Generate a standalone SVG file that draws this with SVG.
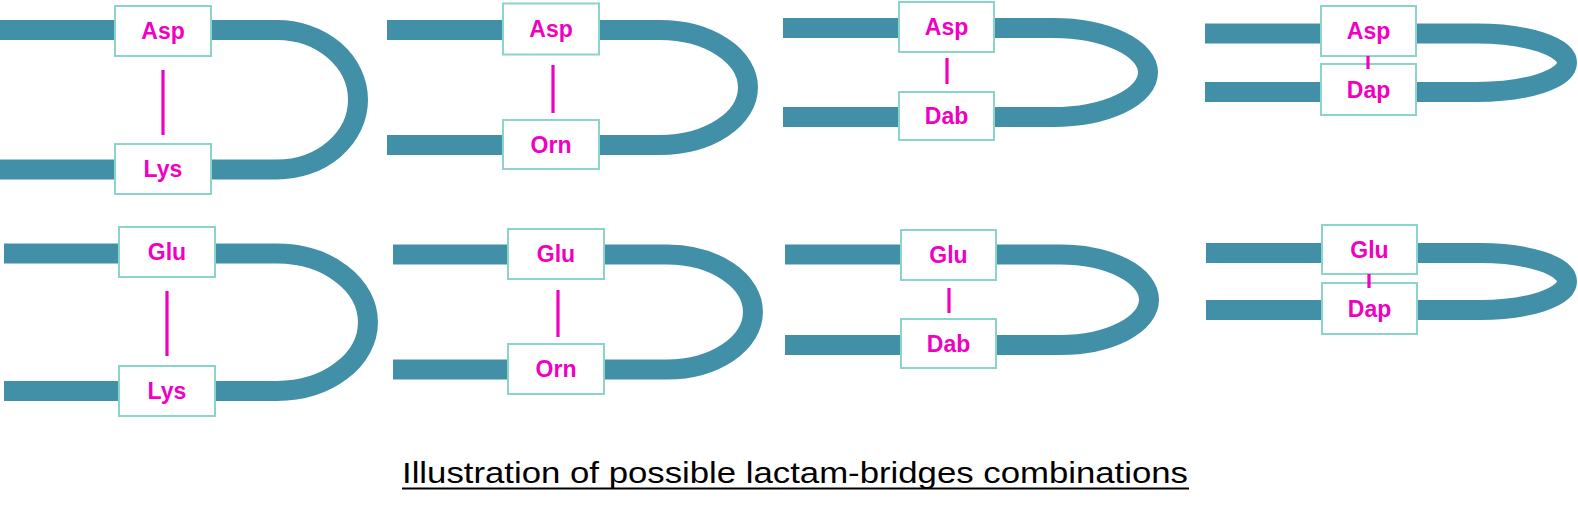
<svg xmlns="http://www.w3.org/2000/svg" width="1578" height="516" viewBox="0 0 1578 516">
<style>
.strand{fill:none;stroke:#428FA8;stroke-width:20;stroke-linecap:butt}
.bridge{stroke:#F000C0;stroke-width:3.2}
.box{fill:#FFFFFF;stroke:#8AD4CB;stroke-width:2}
.lbl{font-family:"Liberation Sans",Arial,sans-serif;font-weight:bold;font-size:23px;fill:#F000C0;text-anchor:middle}
.title{font-family:"Liberation Sans",Arial,sans-serif;font-size:30px;fill:#000000;text-anchor:middle}
</style>
<rect width="1578" height="516" fill="#FFFFFF"/>
<g id="strands">
<path class="strand" d="M0,30 H277 A81,69.75 0 0 1 277,169.5 H0"/>
<path class="strand" d="M387,30 H660 A88,57.5 0 0 1 660,145 H387"/>
<path class="strand" d="M783,28 H1053 A95,44.5 0 0 1 1053,117 H783"/>
<path class="strand" d="M1205,33.5 H1477 A90,29.25 0 0 1 1477,92 H1205"/>
<path class="strand" d="M4,253.5 H277 A91,68.75 0 0 1 277,391 H4"/>
<path class="strand" d="M393,254.5 H667 A86,57.5 0 0 1 667,369.5 H393"/>
<path class="strand" d="M785,254.5 H1060 A89,45.25 0 0 1 1060,345 H785"/>
<path class="strand" d="M1206,253 H1480 A87,28.5 0 0 1 1480,310 H1206"/>
</g>
<g id="n1-asp"><rect class="box" x="115" y="6" width="96" height="50"/><text class="lbl" x="163" y="39">Asp</text></g>
<g id="n1-lys"><rect class="box" x="115" y="144" width="96" height="50"/><text class="lbl" x="163" y="177">Lys</text></g>
<g id="n2-asp"><rect class="box" x="503" y="3.5" width="96" height="51"/><text class="lbl" x="551" y="37">Asp</text></g>
<g id="n2-orn"><rect class="box" x="503" y="120" width="96" height="49"/><text class="lbl" x="551" y="152.5">Orn</text></g>
<g id="n3-asp"><rect class="box" x="899" y="2" width="95" height="50"/><text class="lbl" x="946.5" y="35">Asp</text></g>
<g id="n3-dab"><rect class="box" x="899" y="92" width="95" height="48"/><text class="lbl" x="946.5" y="124">Dab</text></g>
<g id="n4-asp"><rect class="box" x="1321" y="6" width="95" height="50"/><text class="lbl" x="1368.5" y="39">Asp</text></g>
<g id="n4-dap"><rect class="box" x="1321" y="64" width="95" height="51"/><text class="lbl" x="1368.5" y="97.5">Dap</text></g>
<g id="n5-glu"><rect class="box" x="119" y="227" width="96" height="50"/><text class="lbl" x="167" y="260">Glu</text></g>
<g id="n5-lys"><rect class="box" x="119" y="366" width="96" height="50"/><text class="lbl" x="167" y="399">Lys</text></g>
<g id="n6-glu"><rect class="box" x="508" y="229" width="96" height="50"/><text class="lbl" x="556" y="262">Glu</text></g>
<g id="n6-orn"><rect class="box" x="508" y="344" width="96" height="50"/><text class="lbl" x="556" y="377">Orn</text></g>
<g id="n7-glu"><rect class="box" x="901" y="230" width="95" height="50"/><text class="lbl" x="948.5" y="263">Glu</text></g>
<g id="n7-dab"><rect class="box" x="901" y="319" width="95" height="49"/><text class="lbl" x="948.5" y="351.5">Dab</text></g>
<g id="n8-glu"><rect class="box" x="1322" y="225" width="95" height="49"/><text class="lbl" x="1369.5" y="257.5">Glu</text></g>
<g id="n8-dap"><rect class="box" x="1322" y="283" width="95" height="51"/><text class="lbl" x="1369.5" y="316.5">Dap</text></g>
<g id="bridges">
<line class="bridge" x1="163" y1="70" x2="163" y2="135"/>
<line class="bridge" x1="553" y1="65" x2="553" y2="113"/>
<line class="bridge" x1="947" y1="58" x2="947" y2="84"/>
<line class="bridge" x1="1368" y1="56" x2="1368" y2="69"/>
<line class="bridge" x1="167" y1="291" x2="167" y2="356"/>
<line class="bridge" x1="558" y1="290" x2="558" y2="337"/>
<line class="bridge" x1="949" y1="288" x2="949" y2="313"/>
<line class="bridge" x1="1369" y1="274" x2="1369" y2="288"/>
</g>
<g id="title">
<text class="title" x="795" y="483" textLength="786" lengthAdjust="spacingAndGlyphs">Illustration of possible lactam-bridges combinations</text>
<line x1="402" y1="488.5" x2="1189" y2="488.5" stroke="#000000" stroke-width="2"/>
</g>
</svg>
